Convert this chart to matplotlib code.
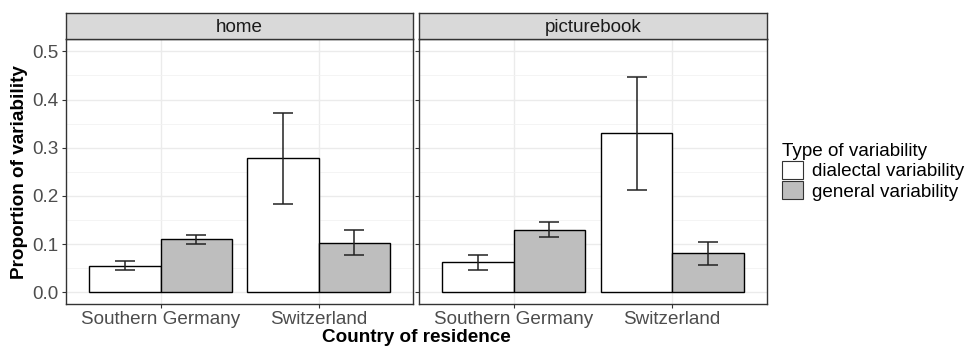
import matplotlib
matplotlib.use("Agg")
import matplotlib.pyplot as plt
from matplotlib.patches import Patch, Rectangle
import numpy as np

plt.rcParams['font.family'] = ['Liberation Sans', 'DejaVu Sans']

panels = ["home", "picturebook"]
countries = ["Southern Germany", "Switzerland"]
types = ["dialectal variability", "general variability"]

# values [panel][type][country]
home_mean = {"dialectal variability": [0.055, 0.278], "general variability": [0.110, 0.103]}
home_lo = {"dialectal variability": [0.047, 0.184], "general variability": [0.101, 0.077]}
home_hi = {"dialectal variability": [0.064, 0.373], "general variability": [0.119, 0.130]}
pb_mean = {"dialectal variability": [0.062, 0.330], "general variability": [0.130, 0.081]}
pb_lo = {"dialectal variability": [0.046, 0.212], "general variability": [0.114, 0.057]}
pb_hi = {"dialectal variability": [0.077, 0.447], "general variability": [0.145, 0.105]}

data = {"home": (home_mean, home_lo, home_hi), "picturebook": (pb_mean, pb_lo, pb_hi)}
fills = {"dialectal variability": "white", "general variability": "#bebebe"}
yticks = [0.0, 0.1, 0.2, 0.3, 0.4, 0.5]

W, H = 966, 347
fig = plt.figure(figsize=(W / 100, H / 100), dpi=100)

def fx(px):
    return px / W

def fy(py):
    return 1 - py / H

panel_x = [(65.7, 413.3), (418.5, 767.3)]
p_top, p_bot = 39.3, 304.3
s_top = 13.3
FS = 13.6
edge = "#333333"

axes = []
for i, (pn, (x0, x1)) in enumerate(zip(panels, panel_x)):
    ax = fig.add_axes([fx(x0), fy(p_bot), fx(x1 - x0), (p_bot - p_top) / H])
    sax = fig.add_axes([fx(x0), fy(p_top), fx(x1 - x0), (p_top - s_top) / H])
    sax.set_xticks([]); sax.set_yticks([])
    sax.set_facecolor("#d9d9d9")
    for sp in sax.spines.values():
        sp.set_color(edge); sp.set_linewidth(1.0)
    sax.text(0.5, 0.47, pn, ha="center", va="center", fontsize=FS, color="#1a1a1a",
             transform=sax.transAxes)

    mean, lo, hi = data[pn]
    x = np.arange(1, len(countries) + 1)
    bw = 0.45
    for j, t in enumerate(types):
        xs = x + (j - 0.5) * bw
        m = np.array(mean[t]); l = np.array(lo[t]); h = np.array(hi[t])
        ax.bar(xs, m, width=bw, color=fills[t], edgecolor="black", linewidth=1.0, zorder=3)
        ax.errorbar(xs, m, yerr=[m - l, h - m], fmt="none", ecolor="#222222",
                    elinewidth=1.1, capsize=7.5, capthick=1.1, zorder=4)

    ax.set_xlim(0.4, 2.6)
    ax.set_ylim(-0.025, 0.525)
    ax.set_xticks(x)
    ax.set_yticks(yticks)
    ax.set_yticks([0.05, 0.15, 0.25, 0.35, 0.45], minor=True)
    ax.grid(True, which="major", color="#ebebeb", linewidth=1.0, zorder=0)
    ax.grid(True, which="minor", axis="y", color="#f2f2f2", linewidth=0.6, zorder=0)
    ax.set_axisbelow(True)
    ax.tick_params(axis="both", which="major", length=3, color=edge, labelsize=FS,
                   labelcolor="#4d4d4d", pad=2)
    ax.tick_params(which="minor", length=0)
    ax.set_xticklabels(countries)
    if i == 0:
        ax.set_yticklabels([f"{v:.1f}" for v in yticks])
    else:
        ax.tick_params(axis="y", labelleft=False)
    for sp in ax.spines.values():
        sp.set_color(edge); sp.set_linewidth(1.0)
    axes.append(ax)

fig.text(fx(20), fy(171.7), "Proportion of variability", rotation=90, ha="center", va="center",
         fontsize=FS, fontweight="bold", color="black")
fig.text(fx((65.7 + 767.3) / 2), fy(338), "Country of residence", ha="center", va="center",
         fontsize=FS, fontweight="bold", color="black")

handles = [Patch(facecolor=fills[t], edgecolor="#333333", linewidth=0.8) for t in types]
leg = fig.legend(handles, types, loc="upper left", bbox_to_anchor=(fx(776), fy(137)),
                 title="Type of variability", fontsize=FS, title_fontsize=FS, frameon=False,
                 handlelength=1.15, handleheight=1.1, handletextpad=0.45, labelspacing=0.05,
                 borderaxespad=0, borderpad=0.3)
leg._legend_box.align = "left"

fig.savefig("out.png", dpi=100)
